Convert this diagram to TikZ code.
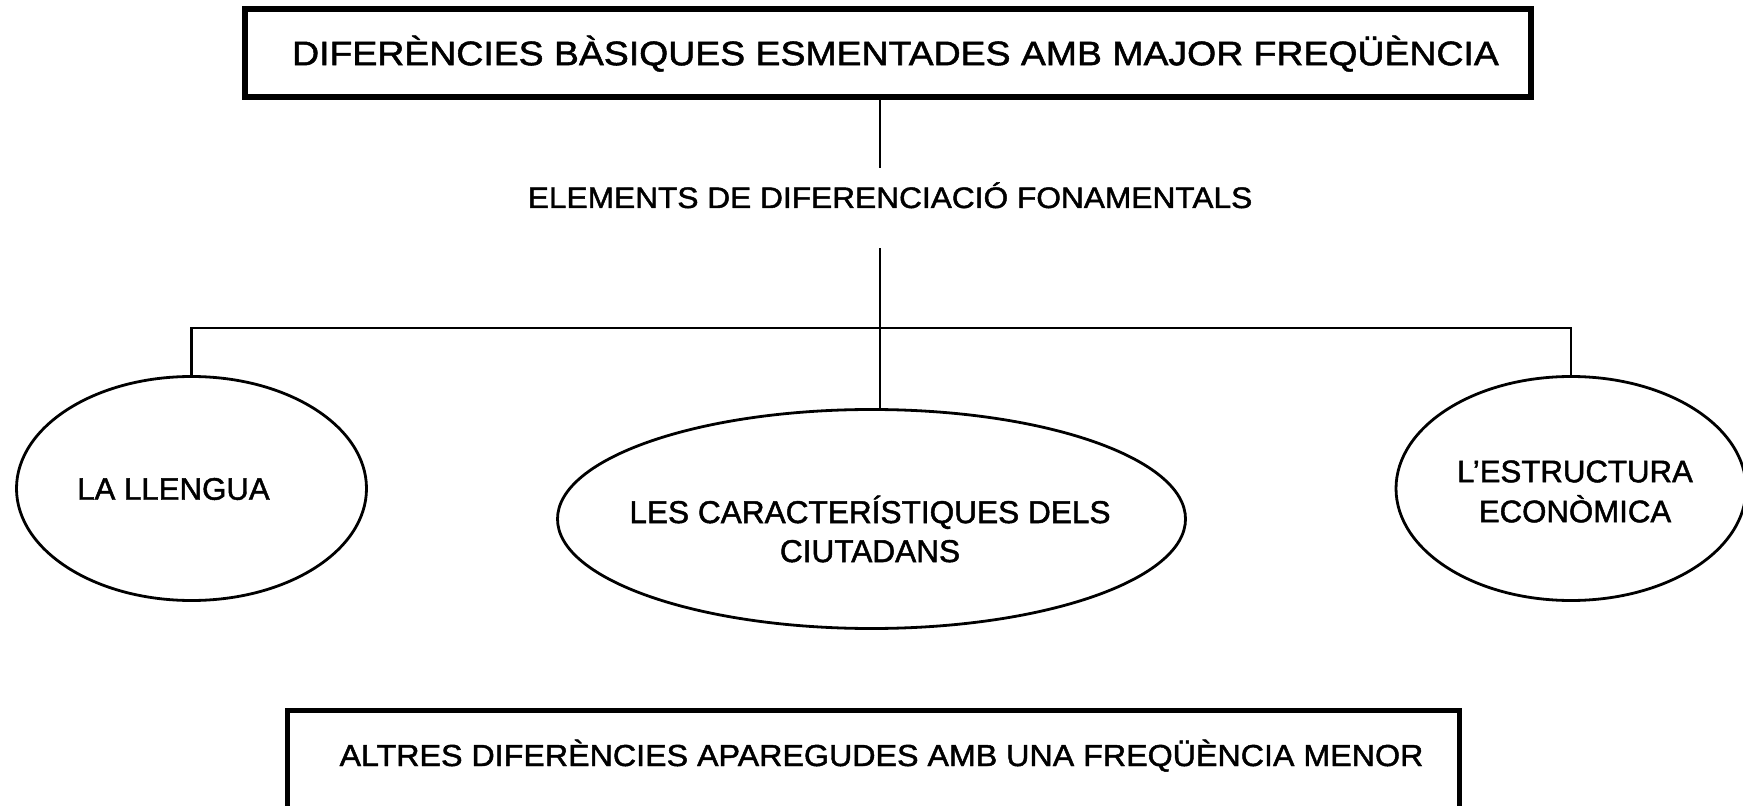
\documentclass[tikz,border=0pt]{standalone}
\usepackage{fontspec}
\setmainfont{Liberation Sans}[FakeBold=1.5]
\newfontfamily\fTop[FakeStretch=1.1,FakeBold=1.5]{Liberation Sans}
\newfontfamily\fElem[FakeStretch=1.07,FakeBold=1.5]{Liberation Sans}
\newfontfamily\fBot[FakeStretch=1.06,FakeBold=1.5]{Liberation Sans}
\usetikzlibrary{shapes.geometric}
\begin{document}
\begin{tikzpicture}[x=0.5pt,y=-0.5pt,
  conn/.style={line width=1.3pt},
  oval/.style={ellipse, draw, line width=1.4pt, inner sep=0pt, minimum width=175pt, minimum height=112pt},
  lbl/.style={align=center, inner sep=0pt, font=\fontsize{15.6}{20}\selectfont}]
\useasboundingbox (0,0) rectangle (1743,806);
\node[draw, line width=3pt, minimum width=643pt, minimum height=44pt, inner sep=0pt,
      text height=12.2pt, text depth=0pt, font=\fTop\fontsize{17}{20}\selectfont]
      (top) at (888,53) {\hspace*{7.5pt}DIFERÈNCIES BÀSIQUES ESMENTADES AMB MAJOR FREQÜÈNCIA};
\node[inner sep=0pt, text height=20pt, text depth=20pt, font=\fElem\fontsize{14.8}{17}\selectfont]
      (elem) at (890,208) {ELEMENTS DE DIFERENCIACIÓ FONAMENTALS};
\node[oval] (lleng) at (191.5,488.5) {};
\node[oval, minimum width=314pt, minimum height=109.5pt] (ciut) at (871.5,519) {};
\node[oval] (econ) at (1571,488.5) {};
\node[lbl] (llengT) at (173.5,489) {LA LLENGUA};
\node[lbl, font=\fontsize{15.8}{19.5}\selectfont] (ciutT) at (870,529) {LES CARACTERÍSTIQUES DELS\\CIUTADANS};
\node[lbl] (econT) at (1575,491.5) {L’ESTRUCTURA\\ECONÒMICA};
\node[draw, line width=2.5pt, anchor=north, outer sep=0pt, minimum width=586pt, minimum height=60pt, inner sep=0pt,
      text height=27.75pt, text depth=32.25pt, font=\fBot\fontsize{15.2}{17}\selectfont]
      (bot) at (873.5,710.5) {\hspace*{8pt}ALTRES DIFERÈNCIES APAREGUDES AMB UNA FREQÜÈNCIA MENOR};
\coordinate (stem) at (880,0);
\coordinate (bus) at (0,328);
\draw[conn] (top.south -| stem) -- (elem.north -| stem);
\draw[conn] (elem.south -| stem) -- (ciut.north -| stem);
\draw[conn] (lleng.north) -- (lleng.north |- bus) -- (econ.north |- bus) -- (econ.north);
\end{tikzpicture}
\end{document}
